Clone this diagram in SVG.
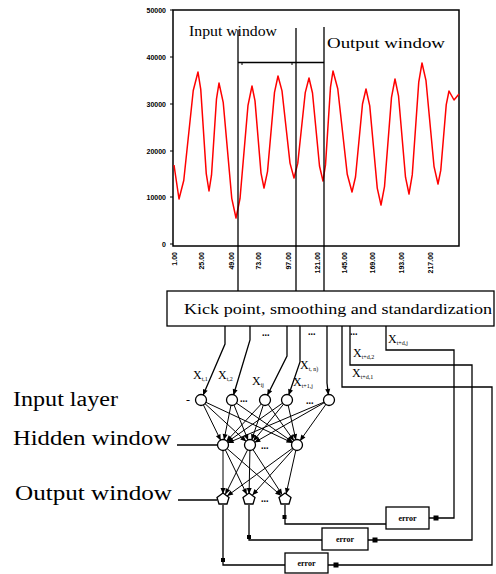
<svg xmlns="http://www.w3.org/2000/svg" width="496" height="574" viewBox="0 0 496 574">
<style>
.ax{stroke:#000;stroke-width:1.5;fill:none}
.ln{stroke:#000;stroke-width:1.3;fill:none}
.nt{stroke:#000;stroke-width:1;fill:none}
.cv{stroke:#ff0000;stroke-width:1.5;fill:none;stroke-linejoin:round}
.nd{fill:#fff;stroke:#000;stroke-width:1.3}
.t{font-family:"Liberation Serif",serif;fill:#000}
.tk{font-family:"Liberation Sans",sans-serif;font-weight:bold;font-size:7px;fill:#000}
.sub{font-size:6px}
.dot{fill:#000}
</style>
<defs>
<marker id="ah" markerUnits="userSpaceOnUse" markerWidth="8" markerHeight="6" refX="11" refY="2.5" orient="auto" overflow="visible"><path d="M0,0 L6,2.5 L0,5 z" fill="#000"/></marker>
</defs>
<rect fill="#fff" x="0" y="0" width="496" height="574"/>

<g id="chart">
<rect class="ax" x="173" y="10" width="286" height="236"/>
<g class="nt">
<line x1="170" y1="10" x2="173" y2="10"/><line x1="170" y1="57" x2="173" y2="57"/><line x1="170" y1="104" x2="173" y2="104"/><line x1="170" y1="151" x2="173" y2="151"/><line x1="170" y1="197" x2="173" y2="197"/><line x1="170" y1="244" x2="173" y2="244"/>
</g>
<g class="tk" text-anchor="end">
<text x="166" y="12.5">50000</text><text x="166" y="59.5">40000</text><text x="166" y="106.5">30000</text><text x="166" y="153.5">20000</text><text x="166" y="199.5">10000</text><text x="166" y="246.5">0</text>
</g>
<g class="tk" text-anchor="end">
<text transform="translate(176.5,252) rotate(-90)">1.00</text>
<text transform="translate(203.5,252) rotate(-90)">25.00</text>
<text transform="translate(233.5,252) rotate(-90)">49.00</text>
<text transform="translate(260.5,252) rotate(-90)">73.00</text>
<text transform="translate(290.5,252) rotate(-90)">97.00</text>
<text transform="translate(319.5,252) rotate(-90)">121.00</text>
<text transform="translate(346.5,252) rotate(-90)">145.00</text>
<text transform="translate(374.5,252) rotate(-90)">169.00</text>
<text transform="translate(403.5,252) rotate(-90)">193.00</text>
<text transform="translate(432.5,252) rotate(-90)">217.00</text>
</g>
<polyline class="cv" points="174,165 179,199 183.75,180.5 188.5,135.5 193.25,90.5 198,72 200.75,89.4 203.5,131.5 206.25,173.6 209,191 211.5,175.2 214,137 216.5,98.8 219,83 223.25,102.7 227.5,150.5 231.75,198.3 236,218 240,198.7 244,152 248,105.3 252,86 255,100.9 258,137 261,173.1 264,188 267.5,171.6 271,132 274.5,92.4 278,76 282,90.9 286,127 290,163.1 294,178 297.75,163.4 301.5,128 305.25,92.6 309,78 312.5,93 316,129.5 319.5,166 323,181 325.5,164.9 328,126 330.5,87.1 333,71 337.75,88.7 342.5,131.5 347.25,174.3 352,192 355.5,177 359,140.5 362.5,104 366,89 369.75,105.9 373.5,147 377.25,188.1 381,205 384.5,186.6 388,142 391.5,97.4 395,79 398.5,95.8 402,136.5 405.5,177.2 409,194 412.25,174.9 415.5,128.5 418.75,82.1 422,63 426,80.7 430,123.5 434,166.3 438,184 440.75,170.4 443.5,137.5 446.25,104.6 449,91 454,100 459,94"/>
<g class="ln">
<line x1="238" y1="30" x2="238" y2="291"/>
<line x1="296" y1="28" x2="296" y2="291"/>
<line x1="324" y1="27" x2="324" y2="291"/>
<line x1="238" y1="62.5" x2="324" y2="62.5"/>
</g>
<g class="nt"><line x1="242" y1="62" x2="242" y2="65"/><line x1="292" y1="62" x2="292" y2="65"/></g>
<text class="t" x="189" y="36" font-size="15" textLength="88" lengthAdjust="spacingAndGlyphs">Input window</text>
<text class="t" x="327" y="48" font-size="15" textLength="118" lengthAdjust="spacingAndGlyphs">Output window</text>
</g>

<g id="preprocess">
<rect class="ln" x="167" y="291" width="327" height="35" fill="#fff"/>
<text class="t" x="184" y="314" font-size="15" textLength="308" lengthAdjust="spacingAndGlyphs">Kick point, smoothing and standardization</text>
</g>

<g id="connectors">
<g class="ln" marker-end="url(#ah)">
<polyline points="225,326 225,344 201,400"/>
<polyline points="250,326 250,340 232,400"/>
<polyline points="287,326 287,356 265,400"/>
<polyline points="300,326 300,362 287,400"/>
<polyline points="327,326 327,383 329,400"/>
</g>
<g class="nt" marker-end="url(#ah)">
<line x1="201" y1="400" x2="223" y2="445"/><line x1="201" y1="400" x2="250" y2="445"/><line x1="201" y1="400" x2="297" y2="445"/>
<line x1="232" y1="400" x2="223" y2="445"/><line x1="232" y1="400" x2="250" y2="445"/><line x1="232" y1="400" x2="297" y2="445"/>
<line x1="265" y1="400" x2="223" y2="445"/><line x1="265" y1="400" x2="250" y2="445"/><line x1="265" y1="400" x2="297" y2="445"/>
<line x1="287" y1="400" x2="223" y2="445"/><line x1="287" y1="400" x2="250" y2="445"/><line x1="287" y1="400" x2="297" y2="445"/>
<line x1="329" y1="400" x2="223" y2="445"/><line x1="329" y1="400" x2="250" y2="445"/><line x1="329" y1="400" x2="297" y2="445"/>
<line x1="223" y1="445" x2="223" y2="499"/><line x1="223" y1="445" x2="249" y2="499"/><line x1="223" y1="445" x2="285" y2="499"/>
<line x1="250" y1="445" x2="223" y2="499"/><line x1="250" y1="445" x2="249" y2="499"/><line x1="250" y1="445" x2="285" y2="499"/>
<line x1="297" y1="445" x2="223" y2="499"/><line x1="297" y1="445" x2="249" y2="499"/><line x1="297" y1="445" x2="285" y2="499"/>
</g>
<g class="ln">
<line x1="177" y1="445" x2="217" y2="445"/>
<line x1="178" y1="500" x2="217" y2="500"/>
<polyline points="386,326 386,350 454,350 454,518 429,518"/>
<polyline points="350,326 350,365 472,365 472,540 368,540"/>
<polyline points="342,326 342,387 492,387 492,565 328,565"/>
<polyline points="285,505 285,524 386,524"/>
<polyline points="249,505 249,540 322,540"/>
<polyline points="223,505 223,565 285,565"/>
</g>
<g class="dot">
<rect x="433.5" y="515.5" width="5" height="5"/>
<rect x="372.5" y="537.5" width="5" height="5"/>
<rect x="333.5" y="562.5" width="5" height="5"/>
<rect x="282.5" y="515" width="4" height="4"/>
<rect x="247" y="535" width="4" height="4"/>
<rect x="221" y="558" width="4" height="4"/>
</g>
</g>

<g id="input-layer">
<circle class="nd" cx="201" cy="400" r="5.5"/>
<circle class="nd" cx="232" cy="400" r="5.5"/>
<circle class="nd" cx="265" cy="400" r="5.5"/>
<circle class="nd" cx="287" cy="400" r="5.5"/>
<circle class="nd" cx="329" cy="400" r="5.5"/>
<text class="t" x="186" y="404" font-size="12">-</text>
<text class="t" x="240" y="402" font-size="10" font-weight="bold">...</text>
<text class="t" x="306" y="404" font-size="10" font-weight="bold">...</text>
</g>
<g id="hidden-layer">
<circle class="nd" cx="223" cy="445" r="5.5"/>
<circle class="nd" cx="250" cy="445" r="5.5"/>
<circle class="nd" cx="297" cy="445" r="5.5"/>
<text class="t" x="261" y="449" font-size="10" font-weight="bold">...</text>
</g>
<g id="output-layer">
<polygon class="nd" points="223,493 229,497.5 227,504 219,504 217,497.5"/>
<polygon class="nd" points="249,493 255,497.5 253,504 245,504 243,497.5"/>
<polygon class="nd" points="285,493 291,497.5 289,504 281,504 279,497.5"/>
<text class="t" x="261" y="502" font-size="10" font-weight="bold">...</text>
</g>

<g id="x-labels">
<text class="t" x="193" y="379" font-size="12">X<tspan class="sub" dy="2">t,1</tspan></text>
<text class="t" x="218" y="379" font-size="12">X<tspan class="sub" dy="2">t,2</tspan></text>
<text class="t" x="252" y="385" font-size="12">X<tspan class="sub" dy="2">ij</tspan></text>
<text class="t" x="300" y="369" font-size="12">X<tspan class="sub" dy="2">t, n)</tspan></text>
<text class="t" x="293" y="386" font-size="12">X<tspan class="sub" dy="2">t+1,j</tspan></text>
<text class="t" x="388" y="343" font-size="12">X<tspan class="sub" dy="2">t+d,j</tspan></text>
<text class="t" x="353" y="357" font-size="12">X<tspan class="sub" dy="2">t+d,2</tspan></text>
<text class="t" x="352" y="377" font-size="12">X<tspan class="sub" dy="2">t+d,1</tspan></text>
<text class="t" x="262" y="336" font-size="10" font-weight="bold">...</text>
<text class="t" x="308" y="335" font-size="10" font-weight="bold">...</text>
<text class="t" x="350" y="335" font-size="10" font-weight="bold">...</text>
</g>

<g id="error-1">
<rect class="ln" x="386" y="507" width="43" height="22" fill="#fff"/>
<text class="t" x="407.5" y="521" font-size="8" font-weight="bold" text-anchor="middle">error</text>
</g>
<g id="error-2">
<rect class="ln" x="322" y="528" width="46" height="22" fill="#fff"/>
<text class="t" x="345" y="542" font-size="8" font-weight="bold" text-anchor="middle">error</text>
</g>
<g id="error-3">
<rect class="ln" x="285" y="553" width="43" height="20" fill="#fff"/>
<text class="t" x="306.5" y="566" font-size="8" font-weight="bold" text-anchor="middle">error</text>
</g>

<g id="layer-labels">
<text class="t" x="13" y="406" font-size="20" textLength="105" lengthAdjust="spacingAndGlyphs">Input layer</text>
<text class="t" x="13" y="445" font-size="20" textLength="158" lengthAdjust="spacingAndGlyphs">Hidden window</text>
<text class="t" x="15" y="500" font-size="20" textLength="157" lengthAdjust="spacingAndGlyphs">Output window</text>
</g>
</svg>
